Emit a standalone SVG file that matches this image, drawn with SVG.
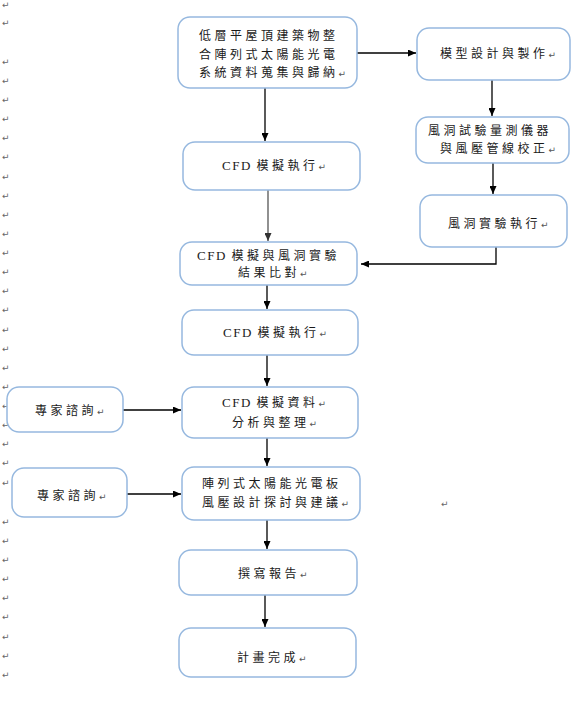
<svg xmlns="http://www.w3.org/2000/svg" width="573" height="710" viewBox="0 0 573 710">
<defs>
<marker id="ah" markerWidth="8" markerHeight="7" refX="8" refY="3.5" orient="auto" markerUnits="userSpaceOnUse">
<path d="M0,0 L8,3.5 L0,7 z" fill="#000"/>
</marker>
<marker id="ahg" markerWidth="8" markerHeight="7" refX="8" refY="3.5" orient="auto" markerUnits="userSpaceOnUse">
<path d="M0,0 L8,3.5 L0,7 z" fill="#333"/>
</marker>
<style>
.box{fill:#fff;stroke:#96b8df;stroke-width:1.5}
.t{font-family:"Noto Sans CJK TC","Noto Sans CJK SC",sans-serif;font-size:12px;letter-spacing:3.5px;fill:#1a1a1a}
.e{font-family:"Liberation Serif",serif;font-size:13px;letter-spacing:1.5px}
.r{font-family:"DejaVu Sans",sans-serif;font-size:9px;fill:#555;letter-spacing:0}
.pm{font-family:"DejaVu Sans",sans-serif;font-size:9px;fill:#666}
.c{stroke:#000;stroke-width:1.3;fill:none}
</style>
</defs>
<g id="marks" class="pm">
<text x="2" y="8">↵</text><text x="2" y="26">↵</text>
<text x="2" y="65">↵</text><text x="2" y="84">↵</text><text x="2" y="103">↵</text><text x="2" y="122">↵</text><text x="2" y="141">↵</text><text x="2" y="160">↵</text><text x="2" y="180">↵</text><text x="2" y="199">↵</text><text x="2" y="218">↵</text><text x="2" y="237">↵</text><text x="2" y="256">↵</text><text x="2" y="275">↵</text><text x="2" y="294">↵</text><text x="2" y="313">↵</text><text x="2" y="333">↵</text><text x="2" y="352">↵</text><text x="2" y="371">↵</text><text x="2" y="390">↵</text><text x="2" y="409">↵</text><text x="2" y="428">↵</text><text x="2" y="447">↵</text><text x="2" y="466">↵</text><text x="2" y="486">↵</text>
<text x="2" y="525">↵</text><text x="2" y="544">↵</text><text x="2" y="563">↵</text><text x="2" y="582">↵</text><text x="2" y="601">↵</text><text x="2" y="620">↵</text><text x="2" y="640">↵</text><text x="2" y="659">↵</text><text x="2" y="678">↵</text>
<text x="441" y="507">↵</text>
</g>
<g id="connectors">
<line class="c" x1="357" y1="53" x2="416" y2="53" marker-end="url(#ah)"/>
<line class="c" x1="265" y1="88" x2="265" y2="141" marker-end="url(#ah)"/>
<line x1="268" y1="190" x2="268" y2="241" stroke="#555" stroke-width="1.3" marker-end="url(#ahg)"/>
<polyline class="c" points="496,247 496,264 361,264" marker-end="url(#ah)"/>
<line class="c" x1="492" y1="80" x2="492" y2="116" marker-end="url(#ah)"/>
<line class="c" x1="493" y1="163" x2="493" y2="194" marker-end="url(#ah)"/>
<line class="c" x1="267" y1="285" x2="267" y2="309" marker-end="url(#ah)"/>
<line class="c" x1="267" y1="355" x2="267" y2="386" marker-end="url(#ah)"/>
<line class="c" x1="123" y1="410" x2="181" y2="410" marker-end="url(#ah)"/>
<line class="c" x1="267" y1="438" x2="267" y2="466" marker-end="url(#ah)"/>
<line class="c" x1="127" y1="494" x2="181" y2="494" marker-end="url(#ah)"/>
<line class="c" x1="267" y1="520" x2="267" y2="549" marker-end="url(#ah)"/>
<line class="c" x1="265" y1="595" x2="265" y2="627" marker-end="url(#ah)"/>
</g>
<g id="nA"><rect class="box" x="178" y="17" width="179" height="71" rx="12"/>
<text class="t" x="199" y="40">低層平屋頂建築物整</text>
<text class="t" x="199" y="58.5">合陣列式太陽能光電</text>
<text class="t" x="199" y="77">系統資料蒐集與歸納<tspan class="r">↵</tspan></text></g>
<g id="nB"><rect class="box" x="417" y="28" width="153" height="52" rx="12"/>
<text class="t" x="440" y="57.5">模型設計與製作<tspan class="r">↵</tspan></text></g>
<g id="nC"><rect class="box" x="416" y="117" width="153" height="46" rx="12"/>
<text class="t" x="428" y="134.5">風洞試驗量測儀器</text>
<text class="t" x="440" y="152.5">與風壓管線校正<tspan class="r">↵</tspan></text></g>
<g id="nD"><rect class="box" x="420" y="195" width="147" height="52" rx="12"/>
<text class="t" x="448" y="227.5">風洞實驗執行<tspan class="r">↵</tspan></text></g>
<g id="nCFD1"><rect class="box" x="183" y="142" width="177" height="48" rx="12"/>
<text class="t" x="222" y="169.5"><tspan class="e">CFD </tspan>模擬執行<tspan class="r">↵</tspan></text></g>
<g id="nE"><rect class="box" x="180" y="242" width="177" height="43" rx="12"/>
<text class="t" x="197" y="259.5"><tspan class="e">CFD </tspan>模擬與風洞實驗</text>
<text class="t" x="238" y="276.5">結果比對<tspan class="r">↵</tspan></text></g>
<g id="nCFD2"><rect class="box" x="182" y="310" width="176" height="45" rx="12"/>
<text class="t" x="223" y="336.5"><tspan class="e">CFD </tspan>模擬執行<tspan class="r">↵</tspan></text></g>
<g id="nF"><rect class="box" x="182" y="387" width="176" height="51" rx="12"/>
<text class="t" x="222" y="406.5"><tspan class="e">CFD </tspan>模擬資料<tspan class="r">↵</tspan></text>
<text class="t" x="232" y="426.5">分析與整理<tspan class="r">↵</tspan></text></g>
<g id="nL1"><rect class="box" x="7" y="387" width="116" height="45" rx="12"/>
<text class="t" x="35" y="414.5">專家諮詢<tspan class="r">↵</tspan></text></g>
<g id="nG"><rect class="box" x="182" y="467" width="178" height="53" rx="12"/>
<text class="t" x="202" y="487.5">陣列式太陽能光電板</text>
<text class="t" x="202" y="506.5">風壓設計探討與建議<tspan class="r">↵</tspan></text></g>
<g id="nL2"><rect class="box" x="12" y="468" width="115" height="49" rx="12"/>
<text class="t" x="37" y="499.5">專家諮詢<tspan class="r">↵</tspan></text></g>
<g id="nH"><rect class="box" x="179" y="550" width="178" height="45" rx="12"/>
<text class="t" x="238" y="577.5">撰寫報告<tspan class="r">↵</tspan></text></g>
<g id="nI"><rect class="box" x="179" y="628" width="177" height="49" rx="12"/>
<text class="t" x="237" y="661.5">計畫完成<tspan class="r">↵</tspan></text></g>
</svg>
